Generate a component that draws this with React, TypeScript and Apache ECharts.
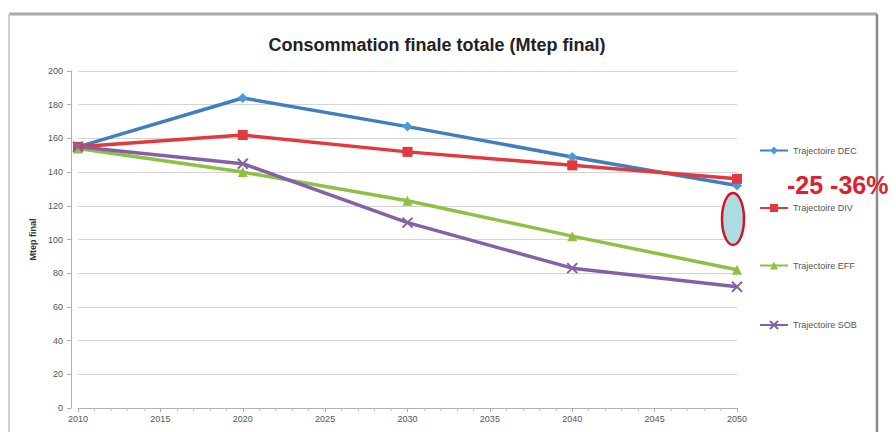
import React, { useEffect, useRef } from "react";
import * as echarts from "echarts";

const years = [2010, 2020, 2030, 2040, 2050];
const dec = [155, 184, 167, 149, 132];
const div = [155, 162, 152, 144, 136];
const eff = [154, 140, 123, 102, 82];
const sob = [155, 145, 110, 83, 72];
const seriesNames = ["Trajectoire DEC", "Trajectoire DIV", "Trajectoire EFF", "Trajectoire SOB"];
const titleText = "Consommation finale totale (Mtep final)";
const yName = "Mtep final";
const annotation = "-25 -36%";

const pairs = (vals: number[]) => years.map((y, i) => [y, vals[i]]);

export default function App() {
  const ref = useRef<HTMLDivElement>(null);
  useEffect(() => {
    if (!ref.current) return;
    const chart = echarts.init(ref.current, null, { renderer: "svg" });
    const font = "'Liberation Sans Narrow', 'Liberation Sans', sans-serif";
    const mk = (name: string, data: number[], color: string, symbol: string, extra: any = {}) => ({
      name,
      type: "line",
      data: pairs(data),
      symbol,
      symbolSize: 10,
      lineStyle: { color, width: 3.5 },
      itemStyle: { color, ...extra },
      z: 3,
    });
    chart.setOption({
      animation: false,
      backgroundColor: "#ffffff",
      grid: { left: 78, right: 159, top: 71, bottom: 24 },
      xAxis: {
        type: "value",
        min: 2010,
        max: 2050,
        interval: 5,
        axisLine: { show: true, lineStyle: { color: "#b0b0b0" } },
        axisTick: { show: true, length: 4, lineStyle: { color: "#b0b0b0" } },
        minorTick: { show: true, splitNumber: 5, length: 3, lineStyle: { color: "#c0c0c0" } },
        splitLine: { show: false },
        axisLabel: { color: "#555", fontSize: 9, fontFamily: font, margin: 6, formatter: (v: number) => String(v) },
      },
      yAxis: {
        type: "value",
        min: 0,
        max: 200,
        interval: 20,
        offset: 7,
        axisLine: { show: true, lineStyle: { color: "#b0b0b0" } },
        axisTick: { show: true, length: 4, lineStyle: { color: "#b0b0b0" } },
        splitLine: { show: true, lineStyle: { color: "#d4d4d4" } },
        axisLabel: { color: "#555", fontSize: 9, fontFamily: font, margin: 8 },
        name: yName,
        nameLocation: "middle",
        nameGap: 34,
        nameRotate: 90,
        nameTextStyle: { color: "#333", fontSize: 9, fontWeight: "bold", fontFamily: font },
      },
      legend: {
        orient: "vertical",
        left: 754,
        top: 141,
        itemGap: 48.5,
        itemWidth: 28,
        itemHeight: 10,
        textStyle: { color: "#555", fontSize: 9, fontFamily: font },
        data: seriesNames,
      },
      series: [
        mk(seriesNames[0], dec, "#3f7fc0", "diamond", { color: "#4a9ae0" }),
        mk(seriesNames[1], div, "#e0393e", "rect"),
        mk(seriesNames[2], eff, "#8dc043", "triangle"),
        {
          ...mk(seriesNames[3], sob, "#8461a6", "path://M0,0L10,10M10,0L0,10"),
          itemStyle: { color: "none", borderColor: "#8461a6", borderWidth: 2 },
        },
      ],
      graphic: [
        { type: "line", shape: { x1: 9, y1: 14, x2: 877, y2: 14 }, style: { stroke: "#a8a8a8", lineWidth: 3 }, z: 10 },
        { type: "line", shape: { x1: 9, y1: 14, x2: 9, y2: 432 }, style: { stroke: "#d0d0d0", lineWidth: 2 }, z: 10 },
        { type: "line", shape: { x1: 877, y1: 14, x2: 877, y2: 432 }, style: { stroke: "#8a8a8a", lineWidth: 2.5 }, z: 10 },
        {
          type: "text",
          x: 437,
          y: 45,
          style: { text: titleText, fontSize: 18, fontWeight: "bold", fontFamily: font, fill: "#222", align: "center", verticalAlign: "middle" },
          z: 10,
        },
        {
          type: "ellipse",
          shape: { cx: 733, cy: 219, rx: 11, ry: 26 },
          style: { fill: "#a9dde1", stroke: "#d8102a", lineWidth: 2.5 },
          z: 10,
        },
        {
          type: "text",
          x: 787,
          y: 185,
          style: { text: annotation, fontSize: 25, fontWeight: "bold", fontFamily: "'Liberation Sans', Arial, sans-serif", fill: "#e0202c", align: "left", verticalAlign: "middle" },
          z: 11,
        },
      ],
    });
    return () => chart.dispose();
  }, []);
  return <div ref={ref} style={{ width: 896, height: 432, position: "absolute", left: 0, top: 0 }} />;
}
